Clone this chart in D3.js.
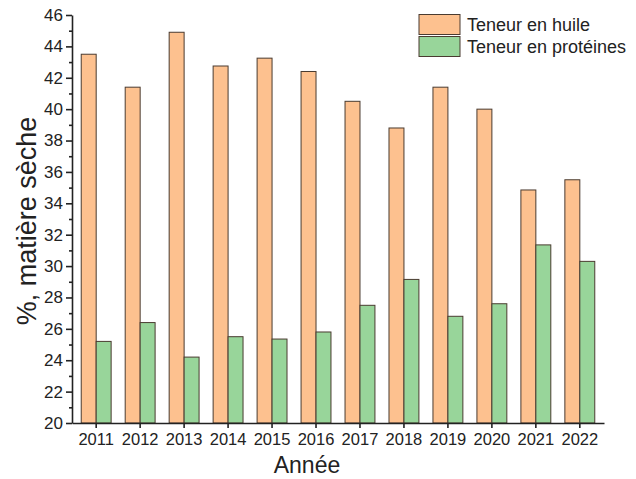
<!DOCTYPE html>
<html>
<head>
<meta charset="utf-8">
<script src="https://cdn.jsdelivr.net/npm/d3@7"></script>
<style>
  body { margin: 0; background: #fff; }
  text { font-family: "Liberation Sans", Arial, sans-serif; fill: #222; }
</style>
</head>
<body>
<div id="chart"></div>
<script>
// data
var years = ['2011','2012','2013','2014','2015','2016','2017','2018','2019','2020','2021','2022'];
var oil = [43.5, 41.4, 44.9, 42.75, 43.25, 42.4, 40.5, 38.8, 41.4, 40.0, 34.85, 35.5];
var protein = [25.2, 26.4, 24.2, 25.5, 25.35, 25.8, 27.5, 29.15, 26.8, 27.6, 31.35, 30.3];
var seriesNames = ['Teneur en huile', 'Teneur en protéines'];
var colors = ['#fdc18f', '#98d59a'];
var yMajor = d3.range(20, 47, 2);
var yMinor = d3.range(21, 46, 2);

var W = 636, H = 479;
var svg = d3.select('#chart').append('svg')
    .attr('width', W)
    .attr('height', H);

var x = d3.scaleBand()
    .domain(years)
    .range([72, 604])
    .paddingInner(0)
    .paddingOuter(0.05);

var x1 = d3.scaleBand()
    .domain([0, 1])
    .range([0, x.bandwidth()])
    .paddingOuter(0.47);

var y = d3.scaleLinear()
    .domain([20, 46])
    .range([423, 15]);

// bars
var rows = years.map(function(yr, i){ return {year: yr, vals: [oil[i], protein[i]]}; });
var g = svg.append('g').selectAll('g')
    .data(rows)
    .enter().append('g')
    .attr('transform', function(d){ return 'translate(' + x(d.year) + ',0)'; });

g.selectAll('rect')
    .data(function(d){ return d.vals.map(function(v, k){ return {k: k, v: v}; }); })
    .enter().append('rect')
    .attr('x', function(d){ return x1(d.k); })
    .attr('width', x1.bandwidth())
    .attr('y', function(d){ return y(d.v); })
    .attr('height', function(d){ return y(20) - y(d.v); })
    .attr('fill', function(d){ return colors[d.k]; })
    .attr('stroke', '#4a3b30')
    .attr('stroke-width', 1);

// y axis
var yAxis = svg.append('g')
    .attr('transform', 'translate(72,0)')
    .call(d3.axisLeft(y).tickValues(yMajor).tickSize(6).tickSizeOuter(0).tickPadding(3));
svg.append('g')
    .attr('transform', 'translate(72,0)')
    .call(d3.axisLeft(y).tickValues(yMinor).tickSize(3).tickFormat(''))
    .select('.domain').remove();

// x axis
var xAxis = svg.append('g')
    .attr('transform', 'translate(0,423)')
    .call(d3.axisBottom(x).tickSize(5).tickSizeOuter(0).tickPadding(5));

svg.selectAll('.domain, .tick line').attr('stroke', '#222').attr('stroke-width', 1.6);
yAxis.selectAll('text').style('font-size', '17px').attr('fill', '#333');
xAxis.selectAll('text').style('font-size', '16.5px').attr('fill', '#333');

// axis titles
svg.append('text')
    .attr('x', 307)
    .attr('y', 473)
    .attr('text-anchor', 'middle')
    .style('font-size', '23px')
    .text('Année');

svg.append('text')
    .attr('transform', 'translate(36,221) rotate(-90)')
    .attr('text-anchor', 'middle')
    .style('font-size', '27px')
    .text('%, matière sèche');

// legend
var leg = svg.append('g').selectAll('g')
    .data(seriesNames)
    .enter().append('g')
    .attr('transform', function(d, i){ return 'translate(419,' + (14.5 + i * 22) + ')'; });
leg.append('rect')
    .attr('width', 41)
    .attr('height', 20)
    .attr('fill', function(d, i){ return colors[i]; })
    .attr('stroke', '#4a3b30')
    .attr('stroke-width', 1);
leg.append('text')
    .attr('x', 48)
    .attr('y', 16.5)
    .style('font-size', '18px')
    .text(function(d){ return d; });
</script>
</body>
</html>
